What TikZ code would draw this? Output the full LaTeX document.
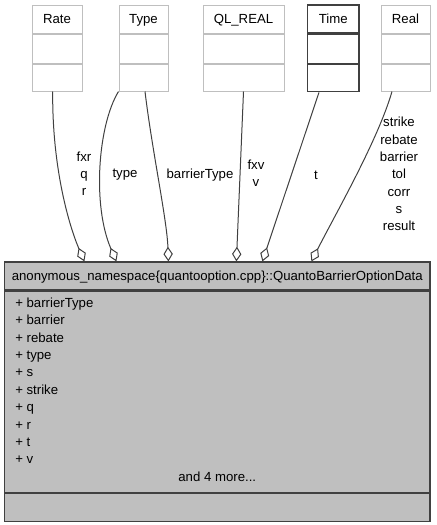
\documentclass[tikz,border=0pt]{standalone}
\usepackage{fontspec}
\setmainfont{Liberation Sans}
\usetikzlibrary{positioning,calc,arrows.meta}
\definecolor{grey75}{HTML}{BFBFBF}
\definecolor{grey25}{HTML}{404040}

\begin{document}
\begin{tikzpicture}[x=0.75pt, y=-0.75pt, font=\fontsize{9.9}{13}\selectfont,
    cls/.style={draw=grey75, line width=0.75pt, inner sep=0pt, minimum width=#1*0.75pt},
    ttl/.style={text height=0.9em, text depth=0.22em},
    data/.style={draw=grey25, fill=grey75, line width=0.9pt, inner sep=0pt, minimum width=425.5*0.75pt},
    agg/.style={draw=grey25, line width=0.75pt, -{Diamond[open, length=11pt, width=7pt]}},
    lbl/.style={align=center, inner sep=0pt}]
    \useasboundingbox (0,0) rectangle (436,525);
    \foreach \nm/\cx/\bw/\tx/\cl/\lw in {rate/57/50/Rate/grey75/0.75pt, type/143.5/49/Type/grey75/0.75pt, qlreal/243.5/81/QL\_REAL/grey75/0.75pt, time/333.3/51.3/Time/grey25/1pt, real/405.5/49/Real/grey75/0.75pt} {
        \node[cls=\bw, draw=\cl, line width=\lw, minimum height=21pt, ttl] (\nm) at (\cx,19) {\tx};
        \node[cls=\bw, draw=\cl, line width=\lw, minimum height=21.75pt, below=0pt of \nm] (\nm2) {};
        \node[cls=\bw, draw=\cl, line width=\lw, minimum height=20.25pt, below=0pt of \nm2] (\nm3) {};
    }
    \node[data, minimum height=21pt, ttl] (data) at (217.25,276) {anonymous\_namespace\{quantooption.cpp\}::QuantoBarrierOptionData};
    \node[data, minimum height=150.75pt, below=0pt of data] (data2) {};
    \node[data, minimum height=21pt, below=0pt of data2] (data3) {};
    \foreach \a [count=\i from 0] in {barrierType, barrier, rebate, type, s, strike, q, r, t, v}
        \node[inner sep=0pt, anchor=base west] (attr\i) at (15, 307.3+17.4*\i) {+ \a};
    \node[inner sep=0pt, anchor=base] (more) at (217.25,481.5) {and 4 more...};

    \draw[agg] ($(rate3.south)+(-4.3,0)$) .. controls (52,170) and (70,228) .. ($(data.north west)+(80.5,0)$);
    \draw[agg] (type3.south west) .. controls (98,125) and (92,205) .. ($(data.north west)+(112.5,0)$);
    \draw[agg] ($(type3.south)+(1.5,0)$) .. controls (152,150) and (167,220) .. ($(data.north west)+(164.5,0)$);
    \draw[agg] (qlreal3.south) -- ($(data.north west)+(232.5,0)$);
    \draw[agg] ($(time3.south)+(-14.3,0)$) -- ($(data.north west)+(258.5,0)$);
    \draw[agg] ($(real3.south)+(-13.5,0)$) .. controls (378,140) and (335,215) .. ($(data.north west)+(307.5,0)$);

    \node[lbl] (lrate) at (84,173.6) {fxr\\q\\r};
    \node[lbl] (ltype) at (125,175) {type};
    \node[lbl] (lbtype) at (200,175) {barrierType};
    \node[lbl] (lqlreal) at (256,173) {fxv\\v};
    \node[lbl] (ltime) at (316,175) {t};
    \node[lbl] (lreal) at (399,174) {strike\\rebate\\barrier\\tol\\corr\\s\\result};
\end{tikzpicture}
\end{document}
